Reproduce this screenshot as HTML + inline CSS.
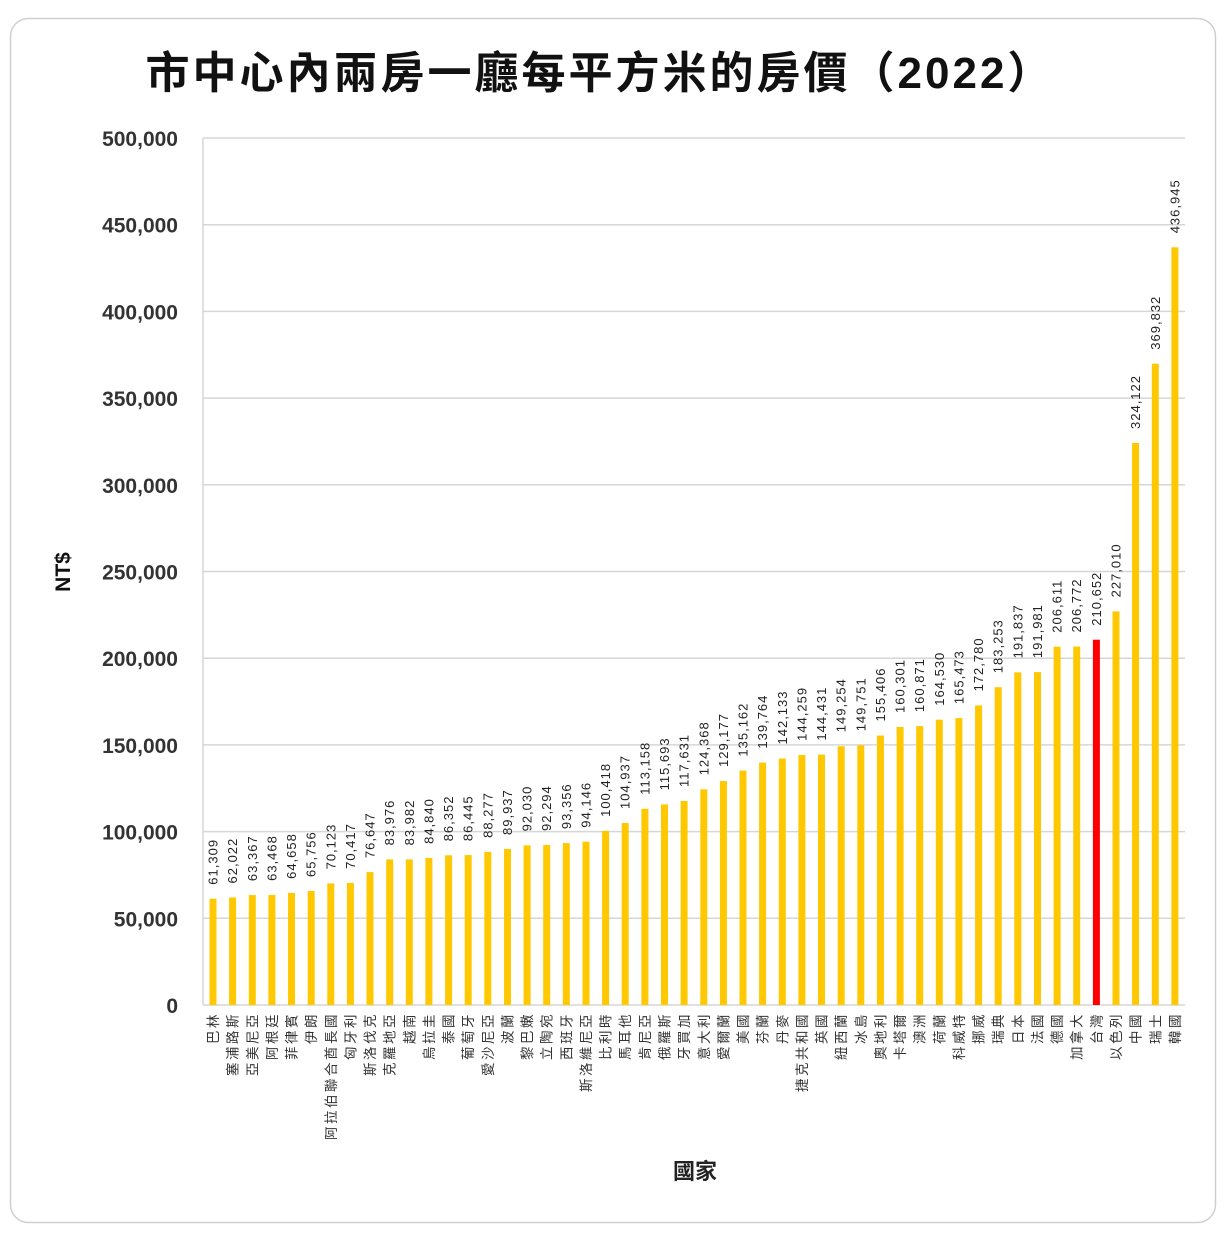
<!DOCTYPE html>
<html><head><meta charset="utf-8"><style>
body{margin:0;background:#fff;}
svg{display:block;font-family:"Liberation Sans","Noto Sans CJK TC",sans-serif;}
.v{font-size:13px;fill:#222;letter-spacing:1px;}
.c{font-size:13.5px;fill:#333;text-anchor:end;letter-spacing:2.5px;}
.t{font-size:21px;fill:#333;text-anchor:end;font-weight:bold;}
</style></head><body>
<svg width="1230" height="1244" viewBox="0 0 1230 1244">
<rect x="10.5" y="18.5" width="1205" height="1204" rx="18" fill="#fff" stroke="#cfcfcf" stroke-width="1.5"/>
<text x="600" y="88" text-anchor="middle" font-size="44" font-weight="bold" letter-spacing="3" fill="#111">市中心內兩房一廳每平方米的房價（2022）</text>
<g stroke="#d6d6d6" stroke-width="1.5">
<line x1="203" y1="138" x2="1185" y2="138"/><line x1="203" y1="224.7" x2="1185" y2="224.7"/><line x1="203" y1="311.4" x2="1185" y2="311.4"/><line x1="203" y1="398.1" x2="1185" y2="398.1"/><line x1="203" y1="484.8" x2="1185" y2="484.8"/><line x1="203" y1="571.5" x2="1185" y2="571.5"/><line x1="203" y1="658.2" x2="1185" y2="658.2"/><line x1="203" y1="744.9" x2="1185" y2="744.9"/><line x1="203" y1="831.6" x2="1185" y2="831.6"/><line x1="203" y1="918.3" x2="1185" y2="918.3"/><line x1="203" y1="1005" x2="1185" y2="1005"/>
<line x1="203" y1="138" x2="203" y2="1005"/>
</g>
<g class="t">
<text x="178" y="146" class="t">500,000</text><text x="178" y="232.7" class="t">450,000</text><text x="178" y="319.4" class="t">400,000</text><text x="178" y="406.1" class="t">350,000</text><text x="178" y="492.8" class="t">300,000</text><text x="178" y="579.5" class="t">250,000</text><text x="178" y="666.2" class="t">200,000</text><text x="178" y="752.9" class="t">150,000</text><text x="178" y="839.6" class="t">100,000</text><text x="178" y="926.3" class="t">50,000</text><text x="178" y="1013" class="t">0</text>
</g>
<text transform="translate(70,572) rotate(-90)" text-anchor="middle" font-size="21" font-weight="bold" fill="#111">NT$</text>
<text x="695" y="1179" text-anchor="middle" font-size="22" font-weight="bold" fill="#222">國家</text>
<g fill="#FFC800">
<rect x="209.5" y="898.7" width="7" height="106.3"/><rect x="229.1" y="897.5" width="7" height="107.5"/><rect x="248.8" y="895.1" width="7" height="109.9"/><rect x="268.4" y="894.9" width="7" height="110.1"/><rect x="288" y="892.9" width="7" height="112.1"/><rect x="307.7" y="891" width="7" height="114"/><rect x="327.3" y="883.4" width="7" height="121.6"/><rect x="346.9" y="882.9" width="7" height="122.1"/><rect x="366.5" y="872.1" width="7" height="132.9"/><rect x="386.2" y="859.4" width="7" height="145.6"/><rect x="405.8" y="859.4" width="7" height="145.6"/><rect x="425.4" y="857.9" width="7" height="147.1"/><rect x="445.1" y="855.3" width="7" height="149.7"/><rect x="464.7" y="855.1" width="7" height="149.9"/><rect x="484.3" y="851.9" width="7" height="153.1"/><rect x="504" y="849" width="7" height="156"/><rect x="523.6" y="845.4" width="7" height="159.6"/><rect x="543.2" y="845" width="7" height="160"/><rect x="562.8" y="843.1" width="7" height="161.9"/><rect x="582.5" y="841.7" width="7" height="163.3"/><rect x="602.1" y="830.9" width="7" height="174.1"/><rect x="621.7" y="823" width="7" height="182"/><rect x="641.4" y="808.8" width="7" height="196.2"/><rect x="661" y="804.4" width="7" height="200.6"/><rect x="680.6" y="801" width="7" height="204"/><rect x="700.3" y="789.3" width="7" height="215.7"/><rect x="719.9" y="781" width="7" height="224"/><rect x="739.5" y="770.6" width="7" height="234.4"/><rect x="759.1" y="762.6" width="7" height="242.4"/><rect x="778.8" y="758.5" width="7" height="246.5"/><rect x="798.4" y="754.9" width="7" height="250.1"/><rect x="818" y="754.6" width="7" height="250.4"/><rect x="837.7" y="746.2" width="7" height="258.8"/><rect x="857.3" y="745.3" width="7" height="259.7"/><rect x="876.9" y="735.5" width="7" height="269.5"/><rect x="896.6" y="727" width="7" height="278"/><rect x="916.2" y="726.1" width="7" height="278.9"/><rect x="935.8" y="719.7" width="7" height="285.3"/><rect x="955.4" y="718.1" width="7" height="286.9"/><rect x="975.1" y="705.4" width="7" height="299.6"/><rect x="994.7" y="687.2" width="7" height="317.8"/><rect x="1014.3" y="672.4" width="7" height="332.6"/><rect x="1034" y="672.1" width="7" height="332.9"/><rect x="1053.6" y="646.7" width="7" height="358.3"/><rect x="1073.2" y="646.5" width="7" height="358.5"/><rect x="1092.9" y="639.7" width="7" height="365.3" fill="#FF0000"/><rect x="1112.5" y="611.4" width="7" height="393.6"/><rect x="1132.1" y="443" width="7" height="562"/><rect x="1151.8" y="363.7" width="7" height="641.3"/><rect x="1171.4" y="247.3" width="7" height="757.7"/>
</g>
<g class="v">
<text transform="translate(217.5,884.7) rotate(-90)">61,309</text>
<text transform="translate(237.1,883.5) rotate(-90)">62,022</text>
<text transform="translate(256.8,881.1) rotate(-90)">63,367</text>
<text transform="translate(276.4,880.9) rotate(-90)">63,468</text>
<text transform="translate(296,878.9) rotate(-90)">64,658</text>
<text transform="translate(315.7,877) rotate(-90)">65,756</text>
<text transform="translate(335.3,869.4) rotate(-90)">70,123</text>
<text transform="translate(354.9,868.9) rotate(-90)">70,417</text>
<text transform="translate(374.5,858.1) rotate(-90)">76,647</text>
<text transform="translate(394.2,845.4) rotate(-90)">83,976</text>
<text transform="translate(413.8,845.4) rotate(-90)">83,982</text>
<text transform="translate(433.4,843.9) rotate(-90)">84,840</text>
<text transform="translate(453.1,841.3) rotate(-90)">86,352</text>
<text transform="translate(472.7,841.1) rotate(-90)">86,445</text>
<text transform="translate(492.3,837.9) rotate(-90)">88,277</text>
<text transform="translate(512,835) rotate(-90)">89,937</text>
<text transform="translate(531.6,831.4) rotate(-90)">92,030</text>
<text transform="translate(551.2,831) rotate(-90)">92,294</text>
<text transform="translate(570.8,829.1) rotate(-90)">93,356</text>
<text transform="translate(590.5,827.7) rotate(-90)">94,146</text>
<text transform="translate(610.1,816.9) rotate(-90)">100,418</text>
<text transform="translate(629.7,809) rotate(-90)">104,937</text>
<text transform="translate(649.4,794.8) rotate(-90)">113,158</text>
<text transform="translate(669,790.4) rotate(-90)">115,693</text>
<text transform="translate(688.6,787) rotate(-90)">117,631</text>
<text transform="translate(708.3,775.3) rotate(-90)">124,368</text>
<text transform="translate(727.9,767) rotate(-90)">129,177</text>
<text transform="translate(747.5,756.6) rotate(-90)">135,162</text>
<text transform="translate(767.1,748.6) rotate(-90)">139,764</text>
<text transform="translate(786.8,744.5) rotate(-90)">142,133</text>
<text transform="translate(806.4,740.9) rotate(-90)">144,259</text>
<text transform="translate(826,740.6) rotate(-90)">144,431</text>
<text transform="translate(845.7,732.2) rotate(-90)">149,254</text>
<text transform="translate(865.3,731.3) rotate(-90)">149,751</text>
<text transform="translate(884.9,721.5) rotate(-90)">155,406</text>
<text transform="translate(904.6,713) rotate(-90)">160,301</text>
<text transform="translate(924.2,712.1) rotate(-90)">160,871</text>
<text transform="translate(943.8,705.7) rotate(-90)">164,530</text>
<text transform="translate(963.4,704.1) rotate(-90)">165,473</text>
<text transform="translate(983.1,691.4) rotate(-90)">172,780</text>
<text transform="translate(1002.7,673.2) rotate(-90)">183,253</text>
<text transform="translate(1022.3,658.4) rotate(-90)">191,837</text>
<text transform="translate(1042,658.1) rotate(-90)">191,981</text>
<text transform="translate(1061.6,632.7) rotate(-90)">206,611</text>
<text transform="translate(1081.2,632.5) rotate(-90)">206,772</text>
<text transform="translate(1100.9,625.7) rotate(-90)">210,652</text>
<text transform="translate(1120.5,597.4) rotate(-90)">227,010</text>
<text transform="translate(1140.1,429) rotate(-90)">324,122</text>
<text transform="translate(1159.8,349.7) rotate(-90)">369,832</text>
<text transform="translate(1179.4,233.3) rotate(-90)">436,945</text>
</g>
<g class="c">
<text transform="translate(218,1012) rotate(-90)">巴林</text>
<text transform="translate(237.6,1012) rotate(-90)">塞浦路斯</text>
<text transform="translate(257.3,1012) rotate(-90)">亞美尼亞</text>
<text transform="translate(276.9,1012) rotate(-90)">阿根廷</text>
<text transform="translate(296.5,1012) rotate(-90)">菲律賓</text>
<text transform="translate(316.2,1012) rotate(-90)">伊朗</text>
<text transform="translate(335.8,1012) rotate(-90)">阿拉伯聯合酋長國</text>
<text transform="translate(355.4,1012) rotate(-90)">匈牙利</text>
<text transform="translate(375,1012) rotate(-90)">斯洛伐克</text>
<text transform="translate(394.7,1012) rotate(-90)">克羅地亞</text>
<text transform="translate(414.3,1012) rotate(-90)">越南</text>
<text transform="translate(433.9,1012) rotate(-90)">烏拉圭</text>
<text transform="translate(453.6,1012) rotate(-90)">泰國</text>
<text transform="translate(473.2,1012) rotate(-90)">葡萄牙</text>
<text transform="translate(492.8,1012) rotate(-90)">愛沙尼亞</text>
<text transform="translate(512.5,1012) rotate(-90)">波蘭</text>
<text transform="translate(532.1,1012) rotate(-90)">黎巴嫩</text>
<text transform="translate(551.7,1012) rotate(-90)">立陶宛</text>
<text transform="translate(571.3,1012) rotate(-90)">西班牙</text>
<text transform="translate(591,1012) rotate(-90)">斯洛維尼亞</text>
<text transform="translate(610.6,1012) rotate(-90)">比利時</text>
<text transform="translate(630.2,1012) rotate(-90)">馬耳他</text>
<text transform="translate(649.9,1012) rotate(-90)">肯尼亞</text>
<text transform="translate(669.5,1012) rotate(-90)">俄羅斯</text>
<text transform="translate(689.1,1012) rotate(-90)">牙買加</text>
<text transform="translate(708.8,1012) rotate(-90)">意大利</text>
<text transform="translate(728.4,1012) rotate(-90)">愛爾蘭</text>
<text transform="translate(748,1012) rotate(-90)">美國</text>
<text transform="translate(767.6,1012) rotate(-90)">芬蘭</text>
<text transform="translate(787.3,1012) rotate(-90)">丹麥</text>
<text transform="translate(806.9,1012) rotate(-90)">捷克共和國</text>
<text transform="translate(826.5,1012) rotate(-90)">英國</text>
<text transform="translate(846.2,1012) rotate(-90)">紐西蘭</text>
<text transform="translate(865.8,1012) rotate(-90)">冰島</text>
<text transform="translate(885.4,1012) rotate(-90)">奧地利</text>
<text transform="translate(905.1,1012) rotate(-90)">卡塔爾</text>
<text transform="translate(924.7,1012) rotate(-90)">澳洲</text>
<text transform="translate(944.3,1012) rotate(-90)">荷蘭</text>
<text transform="translate(963.9,1012) rotate(-90)">科威特</text>
<text transform="translate(983.6,1012) rotate(-90)">挪威</text>
<text transform="translate(1003.2,1012) rotate(-90)">瑞典</text>
<text transform="translate(1022.8,1012) rotate(-90)">日本</text>
<text transform="translate(1042.5,1012) rotate(-90)">法國</text>
<text transform="translate(1062.1,1012) rotate(-90)">德國</text>
<text transform="translate(1081.7,1012) rotate(-90)">加拿大</text>
<text transform="translate(1101.4,1012) rotate(-90)">台灣</text>
<text transform="translate(1121,1012) rotate(-90)">以色列</text>
<text transform="translate(1140.6,1012) rotate(-90)">中國</text>
<text transform="translate(1160.3,1012) rotate(-90)">瑞士</text>
<text transform="translate(1179.9,1012) rotate(-90)">韓國</text>
</g>
</svg>
</body></html>
